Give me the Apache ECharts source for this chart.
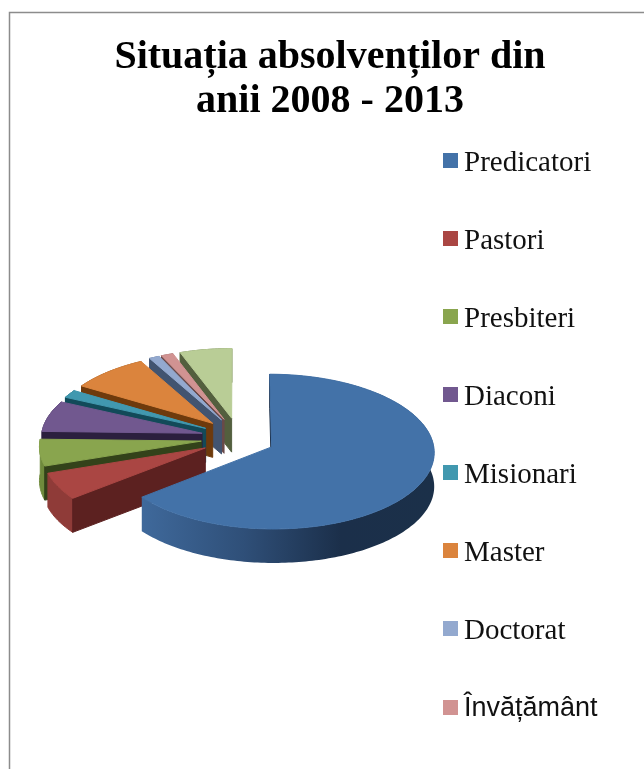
<!DOCTYPE html>
<html>
<head>
<meta charset="utf-8">
<title>Situația absolvenților</title>
<style>
  html, body { margin: 0; padding: 0; background: #fff; }
  #chart { width: 644px; height: 769px; }
</style>
<script src="https://cdn.jsdelivr.net/npm/echarts@6/dist/echarts.min.js"></script>
</head>
<body>
<div id="chart"></div>
<script>
// valori (procente)
const categories = ["Predicatori", "Pastori", "Presbiteri", "Diaconi", "Misionari", "Master", "Doctorat", "Învățământ", "Altele"];
const values = [64.2, 5.6, 5.6, 6.6, 1.7, 8.3, 1.1, 1.3, 5.6];
const legendCount = 8; // a noua intrare e taiata in original

const colors = ["#4372a8", "#aa4643", "#89a54e", "#71588f", "#4198af", "#db843d", "#93a9cf", "#d19392", "#b9cd96"];
const wallColors = ["#1b304b", "#5c2120", "#33421a", "#2b1f3e", "#124a59", "#6e3a0c", "#425470", "#6a4a4a", "#535f3e"];
const rimColors = ["#2c4a70", "#8f3b38", "#6f8a3c", "#3a2c50", "#1a5f72", "#8a4c14", "#556b8e", "#8a6060", "#6f8052"];

/* ========== geometrie pie 3D ========== */
const CX = 238, CY = 438; // centrul inainte de explodare
const RX = 161, RY = 76; // raze
const DEPTH = 34;
const EXPLODE_X = 0.23;
const EXPLODE_Y = 0.27;
const PERSP = 0.06;

const total = values.reduce((a, b) => a + b, 0);

function project(X, Y) {
  const s = 1 + PERSP * Y;
  return [CX + (RX * X) / s, CY - (RY * Y) / s];
}

function buildSlice(i) {
  const before = values.slice(0, i).reduce((a, b) => a + b, 0);
  const a0 = (before / total) * Math.PI * 2;
  const a1 = ((before + values[i]) / total) * Math.PI * 2;
  const mid = (a0 + a1) / 2;
  const ox = EXPLODE_X * Math.sin(mid);
  const oy = EXPLODE_Y * Math.cos(mid);

  const apex = project(ox, oy);
  const arc = [];
  const n = Math.max(2, Math.ceil((a1 - a0) / 0.02));
  for (let k = 0; k <= n; k++) {
    const t = a0 + ((a1 - a0) * k) / n;
    arc.push(project(ox + Math.sin(t), oy + Math.cos(t)));
  }
  const down = (p) => [p[0], p[1] + DEPTH];
  const first = arc[0];
  return {
    top: [apex].concat(arc),
    rim: arc.concat(arc.slice().reverse().map(down)),
    startWall: [apex, first, down(first), down(apex)],
  };
}

function poly(points, fill, stroke) {
  return {
    type: "polygon",
    shape: { points },
    style: { fill, stroke: stroke || fill, lineWidth: 1 },
    silent: true,
  };
}

function rimFill(i) {
  if (i !== 0) return rimColors[i];
  // marginea albastra se inchide spre dreapta
  return new echarts.graphic.LinearGradient(142, 0, 434, 0, [
    { offset: 0, color: "#3f699b" },
    { offset: 0.35, color: "#2f4f78" },
    { offset: 0.68, color: "#1b2f4a" },
    { offset: 1, color: "#1b3049" },
  ], true);
}

// fiecare categorie are seria ei, asa legenda merge direct; desenam din spate in fata
const drawOrder = categories.map((_, i) => i).reverse();
const series = drawOrder.map((i) => ({
  type: "custom",
  name: categories[i],
  coordinateSystem: "none",
  animation: false,
  silent: true,
  itemStyle: { color: colors[i] },
  data: [[values[i]]],
  renderItem: () => {
    const s = buildSlice(i);
    const rim = rimFill(i);
    return {
      type: "group",
      children: [
        poly(s.rim, rim, i === 0 ? "rgba(0,0,0,0)" : rim),
        poly(s.startWall, wallColors[i]),
        poly(s.top, colors[i]),
      ],
    };
  },
}));

const legendData = categories.slice(0, legendCount).map((name) => ({ name, icon: "rect" }));

const chart = echarts.init(document.getElementById("chart"), null, { renderer: "canvas" });
chart.setOption({
  backgroundColor: "#fff",
  animation: false,
  title: {
    text: "Situația absolvenților din\nanii 2008 - 2013",
    left: 325,
    top: 31,
    textAlign: "center",
    textStyle: {
      fontFamily: "Liberation Serif",
      fontWeight: "bold",
      fontSize: 40,
      lineHeight: 44,
      color: "#000",
    },
  },
  legend: {
    orient: "vertical",
    left: 443,
    top: 149,
    padding: 0,
    itemWidth: 15,
    itemHeight: 15,
    itemGap: 49,
    selectedMode: false,
    data: legendData,
    // ultima intrare e scrisa cu alt font in original
    formatter: (name) => (name === "Învățământ" ? `{sans|${name}}` : `{serif|${name}}`),
    textStyle: {
      rich: {
        serif: { fontFamily: "Liberation Serif", fontSize: 29, color: "#111", padding: [6, 0, 0, 1] },
        sans: { fontFamily: "Liberation Sans", fontSize: 27, color: "#111", padding: [2, 0, 0, 1] },
      },
    },
  },
  graphic: [
    {
      type: "rect",
      silent: true,
      shape: { x: 9.5, y: 12.5, width: 800, height: 900 },
      style: { fill: "none", stroke: "#8c8c8c", lineWidth: 1.5 },
    },
  ],
  series,
});
</script>
</body>
</html>
